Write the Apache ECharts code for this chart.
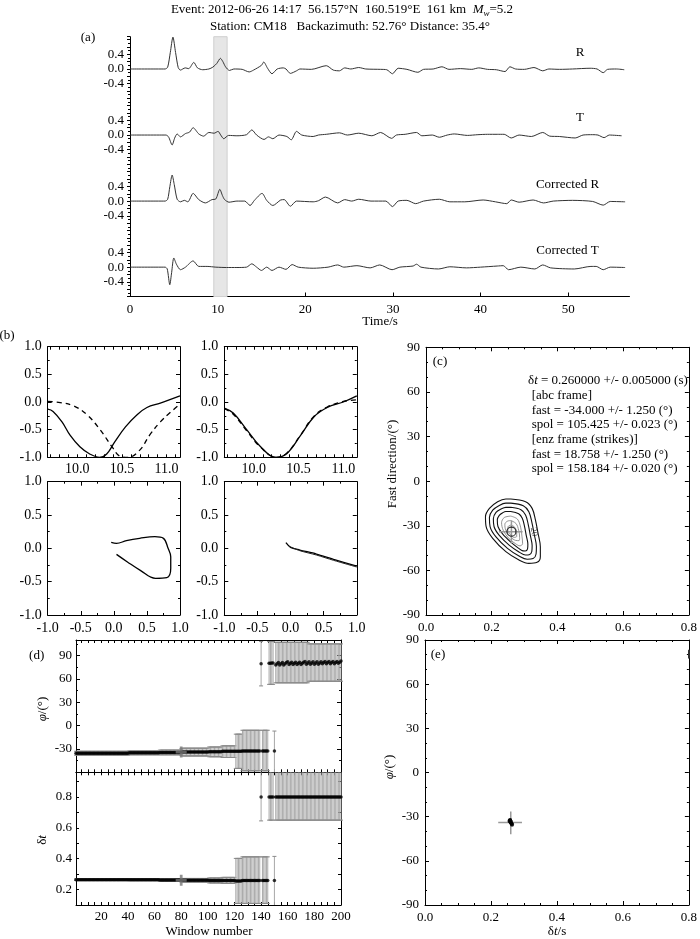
<!DOCTYPE html>
<html><head><meta charset="utf-8">
<script src="https://cdn.jsdelivr.net/npm/echarts@6/dist/echarts.min.js"></script>
<style>html,body{margin:0;padding:0;background:#fff}#c{width:700px;height:939px}</style>
</head><body><div id="c"></div>
<script>
const FONT = '"Liberation Serif", "Times New Roman", serif';

// ---------- Panel (a): waveforms [time s, amplitude] ----------
const traceR = [[0,0],[4.0,0],[4.3,0.05],[4.6,0.45],[4.9,0.87],[5.2,0.45],[5.5,0.04],[5.75,-0.03],[6.3,0.03],[6.7,0.01],[7.28,0.18],[7.7,0.03],[8.3,-0.02],[9.0,0.0],[9.45,0.05],[9.9,0.15],[10.32,0.29],[10.6,0.2],[10.9,0.06],[11.35,-0.04],[11.85,0.0],[12.8,-0.01],[13.6,-0.08],[14.1,-0.03],[15.0,0.1],[15.26,0.19],[15.7,0.02],[16.2,-0.13],[16.8,0],[17.5,0.03],[17.8,0.0],[18.3,-0.12],[19.0,-0.05],[19.4,0],[20.7,-0.01],[22.4,0.09],[23.2,-0.03],[23.9,-0.05],[24.5,0.03],[25.2,0.0],[26.1,0.04],[26.9,0.0],[28.6,-0.01],[29.3,-0.02],[29.95,-0.13],[30.6,0.02],[31.6,-0.01],[32.85,-0.09],[33.5,-0.01],[34.6,0.0],[35.6,0.06],[36.4,-0.01],[37.7,0.01],[39.0,-0.01],[39.8,0.03],[40.8,-0.01],[41.8,-0.02],[42.8,-0.07],[43.35,0.06],[44.0,0.0],[45.0,-0.01],[46.1,0.04],[47.1,-0.05],[47.8,0.0],[49.0,-0.01],[50.5,0.0],[52.5,0.02],[53.3,0.0],[54.0,-0.1],[54.5,-0.01],[55.5,0.0],[56.4,-0.02]];
const traceT = [[0,0],[4.1,0],[4.4,-0.05],[4.81,-0.27],[5.1,-0.08],[5.38,0.03],[5.76,-0.05],[6.33,0.04],[6.8,0.08],[7.2,0.2],[7.85,0.03],[8.4,-0.03],[9.0,0.07],[9.6,0.05],[10.05,0.1],[10.35,0.0],[10.7,-0.1],[11.25,-0.01],[12.2,-0.02],[13.3,0.01],[13.9,0.14],[14.45,0.0],[15.3,-0.12],[15.8,-0.05],[16.3,-0.1],[17.0,0.0],[17.9,-0.04],[18.4,-0.13],[19.0,0.1],[19.6,0.0],[20.9,-0.04],[21.5,0.0],[22.4,0.02],[23.9,0.06],[24.8,0.0],[26.1,0.05],[27.6,-0.02],[28.6,0.07],[29.85,-0.09],[30.4,0.0],[31.4,0.02],[32.7,0.07],[33.3,-0.02],[34.5,0.0],[35.3,-0.06],[36.2,0.0],[37.0,0.03],[38.5,-0.01],[39.7,0.01],[40.8,0.02],[41.9,0.02],[42.7,0.02],[43.5,-0.08],[44.4,0.0],[45.8,-0.04],[47.1,0.07],[47.9,-0.03],[49.0,-0.04],[50.8,-0.08],[51.7,0.0],[52.8,0.01],[53.4,0.0],[54.1,-0.07],[54.7,0.0],[56.1,-0.02]];
const traceCR = [[0,0],[4.0,0],[4.3,0.05],[4.55,0.4],[4.81,0.71],[5.05,0.45],[5.38,0.05],[5.76,-0.02],[6.2,0.02],[6.6,-0.02],[7.2,0.21],[7.85,0.04],[8.6,-0.05],[9.35,0.04],[9.8,0.06],[10.25,0.32],[10.55,0.15],[10.8,0.04],[11.3,-0.03],[12.2,0.0],[13.1,0.0],[13.7,-0.12],[14.2,0.02],[15.07,0.21],[15.6,0.02],[16.3,-0.12],[17.2,0.03],[17.6,0.04],[18.3,-0.14],[19.0,0],[20.9,-0.02],[21.5,0.01],[22.3,0.11],[23.7,-0.05],[24.5,0.04],[25.3,0.0],[26.1,0.05],[27.5,0.0],[29.2,0.0],[29.95,-0.15],[30.6,0.0],[31.6,0.02],[32.6,-0.07],[33.5,0.0],[35.3,0.05],[36.5,-0.02],[38.2,-0.02],[40.3,0.03],[41.7,-0.02],[43.0,-0.07],[43.5,0.03],[44.4,-0.03],[46.0,0.03],[47.2,-0.05],[48.3,0.0],[50.5,0.02],[52.8,-0.01],[54.0,-0.11],[54.8,-0.01],[56.5,-0.02]];
const traceCT = [[0,0],[4.0,0],[4.25,-0.05],[4.54,-0.48],[4.75,-0.15],[5.0,0.25],[5.3,0.08],[5.76,-0.07],[6.33,0.0],[7.2,0.17],[7.85,0.02],[8.8,0.02],[9.8,0.0],[11.0,-0.01],[12.2,-0.01],[13.3,0.0],[13.9,0.09],[14.45,0.0],[15.0,-0.09],[15.6,0.0],[16.2,-0.09],[17.0,0.0],[17.8,-0.06],[18.5,0.07],[19.2,0.0],[20.9,-0.03],[22.6,0.0],[23.7,0.06],[24.4,0.0],[25.9,0.04],[27.4,-0.02],[28.5,0.06],[29.9,-0.07],[30.8,0.0],[32.3,0.03],[32.7,0.08],[33.2,0.0],[35.2,-0.05],[36.5,0.01],[38.4,-0.02],[40.0,0.0],[41.9,0.03],[42.6,0.04],[43.2,-0.07],[44.6,0.0],[46.2,-0.05],[47.1,0.06],[48.0,-0.02],[50.7,-0.05],[52.6,0.02],[53.2,0.02],[54.0,-0.07],[54.8,0.0],[56.5,-0.01]];
const traceNames = ['R','T','Corrected R','Corrected T'];
const analysisWindow = [9.56, 11.08];
const aYLabels = ['0.4','0.0','-0.4'];

// ---------- Panel (b) ----------
const bFastOrig = [[9.67,-0.13],[9.73,-0.17],[9.83,-0.36],[9.92,-0.6],[10.03,-0.81],[10.14,-0.94],[10.25,-1.0],[10.33,-0.94],[10.42,-0.72],[10.54,-0.45],[10.67,-0.23],[10.78,-0.1],[10.93,-0.02],[11.15,0.11]];
const bSlowOrig = [[9.67,0.01],[9.81,-0.01],[9.96,-0.07],[10.11,-0.23],[10.26,-0.51],[10.39,-0.81],[10.48,-0.98],[10.57,-1.0],[10.70,-0.87],[10.81,-0.6],[10.93,-0.36],[11.04,-0.19],[11.15,-0.04]];
const bFastCorr = [[9.67,-0.11],[9.77,-0.2],[9.92,-0.5],[10.07,-0.8],[10.25,-1.0],[10.37,-0.93],[10.52,-0.61],[10.67,-0.27],[10.82,-0.1],[11.0,0.0],[11.15,0.11]];
const bSlowCorr = [[9.67,-0.12],[9.77,-0.22],[9.92,-0.52],[10.07,-0.81],[10.25,-1.0],[10.37,-0.92],[10.52,-0.6],[10.67,-0.26],[10.82,-0.09],[11.0,0.01],[11.08,0.03],[11.15,0.04]];
const bPMOrig = [[0.04,-0.09],[0.2,-0.2],[0.4,-0.33],[0.63,-0.45],[0.8,-0.44],[0.86,-0.3],[0.86,-0.125],[0.82,0.0],[0.75,0.15],[0.62,0.175],[0.39,0.15],[0.19,0.115],[0.04,0.075],[-0.04,0.09]];
const bPMCorr1 = [[-0.07,0.085],[0.0,0.015],[0.14,-0.025],[0.39,-0.085],[0.65,-0.165],[1.0,-0.265]];
const bPMCorr2 = [[-0.02,0.03],[0.14,-0.035],[0.39,-0.1],[0.65,-0.18],[1.0,-0.28]];
const bTimeLabels = [10.0, 10.5, 11.0];

// ---------- Panel (c): contours [dt, phi] ----------
const contour1 = [[0.258,-12],[0.303,-13.8],[0.323,-18.3],[0.333,-26.1],[0.341,-35.1],[0.348,-44.1],[0.348,-50.8],[0.338,-54.6],[0.313,-55.3],[0.283,-53],[0.243,-47.4],[0.203,-38.5],[0.183,-30.6],[0.181,-23.9],[0.193,-18.3],[0.218,-13.8],[0.243,-12.0],[0.258,-12]];
const contour2 = [[0.258,-14.8],[0.296,-16.5],[0.313,-20.5],[0.322,-27.5],[0.329,-35.5],[0.336,-44],[0.335,-49],[0.326,-52],[0.308,-52.5],[0.283,-50.3],[0.248,-45.2],[0.213,-37.5],[0.195,-30.5],[0.193,-24.5],[0.203,-19.5],[0.223,-16.3],[0.243,-14.8],[0.258,-14.8]];
const contour3 = [[0.258,-17.6],[0.289,-19.2],[0.303,-22.7],[0.311,-29],[0.317,-36],[0.323,-43.5],[0.322,-47.3],[0.314,-49.5],[0.303,-49.7],[0.283,-47.6],[0.253,-43],[0.223,-36.5],[0.207,-30.5],[0.205,-25.2],[0.213,-21],[0.228,-18.8],[0.243,-17.6],[0.258,-17.6]];
const contour4 = [[0.258,-20.4],[0.282,-21.9],[0.293,-25],[0.300,-30.5],[0.305,-36.5],[0.310,-42.5],[0.309,-45.5],[0.302,-47],[0.295,-46.9],[0.281,-45],[0.258,-41],[0.233,-35.5],[0.219,-30.5],[0.217,-26],[0.223,-23],[0.233,-21.3],[0.243,-20.4],[0.258,-20.4]];
const contourG1 = [[0.258,-23.5],[0.278,-25.5],[0.288,-31],[0.292,-37],[0.294,-42],[0.286,-43.5],[0.272,-42],[0.252,-38.5],[0.235,-33],[0.230,-28],[0.238,-24.5],[0.258,-23.5]];
const contourG2 = [[0.258,-26.5],[0.274,-28.5],[0.282,-33],[0.285,-38],[0.283,-40],[0.272,-39.8],[0.258,-37.5],[0.243,-33],[0.240,-29],[0.247,-27],[0.258,-26.5]];
const contourG3 = [[0.259,-29.5],[0.270,-31],[0.276,-34.5],[0.276,-37.2],[0.268,-37.8],[0.257,-35.8],[0.249,-33],[0.250,-30.5],[0.259,-29.5]];
const bestDt = 0.26, bestPhi = -34;
const bestDtRange = [0.222, 0.294], bestPhiRange = [-26.5, -42];
const cTextLines = ['[abc frame]','fast = -34.000 +/- 1.250 (°)','spol = 105.425 +/- 0.023 (°)','[enz frame (strikes)]','fast = 18.758 +/- 1.250 (°)','spol = 158.184 +/- 0.020 (°)'];

// ---------- Panel (d): window results ----------
const segWinA = [[1,40],[41,63],[64,79],[80,80],[81,100],[101,110],[111,120],[121,125],[126,139],[141,145],[150,150]];
const phiA    = [-35.5,-35,-34.5,-34,-34,-33.5,-33,-33,-32.5,-32.5,-32.5];
const phiErrA = [[-38,-33],[-37.5,-32.5],[-37.5,-31.5],[-38,-30],[-39,-29],[-40,-27.5],[-41,-26],[-55,-11],[-58,-6],[-58,-6],[-60,-7]];
const dtA     = [0.264,0.263,0.262,0.26,0.26,0.259,0.259,0.256,0.258,0.258,0.258];
const dtErrA  = [[0.259,0.269],[0.258,0.268],[0.255,0.269],[0.25,0.27],[0.248,0.272],[0.243,0.275],[0.24,0.279],[0.11,0.402],[0.11,0.412],[0.11,0.412],[0.10,0.415]];
const segWinB = [[140,140],[146,149],[151,175],[176,200]];
const phiErrB = [[51,108],[53,108],[55,107],[57,105]];
const dtB     = [0.8,0.8,0.8,0.8];
const dtErrB  = [[0.645,0.99],[0.65,0.99],[0.65,0.99],[0.65,0.99]];
const winB    = [140,146,147,148,149,151,152,153,154,155,156,157,158,159,160,161,162,163,164,165,166,167,168,169,170,171,172,173,174,175,176,177,178,179,180,181,182,183,184,185,186,187,188,189,190,191,192,193,194,195,196,197,198,199,200];
const phiB    = [79.5,80,80,80.5,80.5, 78,79.5,81, 78,79.5,81, 78,79.5,81,82, 78.5,80,81.5, 78.5,80,81.5, 78.5,80,81.5, 78.5,80,81.5,82.5, 79,80.5,82, 79,80.5,82, 79,80.5,82, 79,80.5,82, 79.5,81,82.5, 79.5,81,82.5, 79.5,81,82.5, 79.5,81,82.5, 80,81.5,83];
const selectedWin = 80;
const dWinLabels = [20,40,60,80,100,120,140,160,180,200];

// ---------- build ----------
function isObj(o){return o && typeof o==='object' && !Array.isArray(o);}
function merge(a,b){const r=Object.assign({},a);for(const k in b){r[k]=(isObj(a[k])&&isObj(b[k]))?merge(a[k],b[k]):b[k];}return r;}
const grids=[], xAxes=[], yAxes=[], series=[];
function baseAxis(){return {type:'value',axisLine:{show:true,onZero:false,lineStyle:{color:'#000',width:1}},axisTick:{show:true,inside:true,length:4,lineStyle:{color:'#000'}},minorTick:{show:false,length:2,lineStyle:{color:'#000'}},axisLabel:{color:'#000',fontFamily:FONT,fontSize:13,margin:6},splitLine:{show:false},minorSplitLine:{show:false}};}
function mirrorOf(o){
  const m={min:o.min,max:o.max};
  if(o.interval!==undefined)m.interval=o.interval;
  m.axisLabel={show:false};
  m.axisTick=merge(o.axisTick||{},{inside:true});
  if(o.axisTick&&o.axisTick.customValues)m.axisTick.customValues=o.axisTick.customValues;
  if(o.minorTick)m.minorTick=o.minorTick;
  return m;
}
function addGrid(box,xo,yo,mirror){
  const gi=grids.length;
  grids.push({left:box[0],top:box[1],width:box[2],height:box[3]});
  const xi=xAxes.length; xAxes.push(merge(merge(baseAxis(),{gridIndex:gi,position:'bottom'}),xo));
  const yi=yAxes.length; yAxes.push(merge(merge(baseAxis(),{gridIndex:gi,position:'left'}),yo));
  if(mirror){
    xAxes.push(merge(merge(baseAxis(),{gridIndex:gi,position:'top'}),mirrorOf(xo)));
    yAxes.push(merge(merge(baseAxis(),{gridIndex:gi,position:'right'}),mirrorOf(yo)));
  }
  return {xi,yi};
}
function line(ax,data,style,extra){return Object.assign({type:'line',xAxisIndex:ax.xi,yAxisIndex:ax.yi,data,showSymbol:false,symbol:'none',lineStyle:style,animation:false,silent:true},extra||{});}

// Panel a
const offs=[0,-1.8,-3.6,-5.4];
const A=addGrid([130,36.7,499.5,259.8],
  {min:0,max:57,axisTick:{inside:true,length:4,customValues:[0,10,20,30,40,50]},axisLabel:{customValues:[0,10,20,30,40,50],margin:7}},
  {min:-6.2,max:0.88,interval:0.2,axisTick:{inside:false,length:3},minorTick:{show:true,splitNumber:2,length:2},
   axisLabel:{margin:6,formatter:function(v){for(let k=0;k<4;k++){const d=v-offs[k];if(Math.abs(d-0.4)<1e-6)return aYLabels[0];if(Math.abs(d)<1e-6)return aYLabels[1];if(Math.abs(d+0.4)<1e-6)return aYLabels[2];}return '';}}},false);
[traceR,traceT,traceCR,traceCT].forEach((tr,k)=>{
  series.push(line(A,tr.map(p=>[p[0],p[1]+offs[k]]),{color:'#333',width:1},{smooth:0.25,z:3,
    markArea:k===0?{silent:true,itemStyle:{color:'#e6e6e6',borderColor:'#cfcfcf',borderWidth:1},data:[[{xAxis:analysisWindow[0]},{xAxis:analysisWindow[1]}]]}:undefined}));
});

// Panel b
const tick01=[9.7,9.8,9.9,10.0,10.1,10.2,10.3,10.4,10.5,10.6,10.7,10.8,10.9,11.0,11.1];
const bx={min:9.67,max:11.15,axisTick:{customValues:tick01,length:3},axisLabel:{customValues:bTimeLabels,fontSize:14,margin:5,formatter:v=>v.toFixed(1)}};
const by={min:-1,max:1,interval:0.5,axisTick:{length:4},minorTick:{show:true,splitNumber:2,length:2},axisLabel:{fontSize:14,formatter:v=>v.toFixed(1)}};
const bpx={min:-1,max:1,interval:0.5,axisTick:{length:4},minorTick:{show:true,splitNumber:2,length:2},axisLabel:{fontSize:14,formatter:v=>v.toFixed(1)}};
const B1=addGrid([47.7,346.7,132.3,110.6],bx,by,true);
const B2=addGrid([224.3,346.7,132.5,110.6],bx,by,true);
const B3=addGrid([47.7,481.7,132.3,133.3],bpx,by,true);
const B4=addGrid([224.3,481.7,132.5,133.3],bpx,by,true);
series.push(line(B1,bFastOrig,{color:'#000',width:1.3},{smooth:0.4}));
series.push(line(B1,bSlowOrig,{color:'#000',width:1.3,type:[5,4]},{smooth:0.4}));
series.push(line(B2,bFastCorr,{color:'#000',width:1.3},{smooth:0.4}));
series.push(line(B2,bSlowCorr,{color:'#000',width:1.3,type:[5,4]},{smooth:0.4}));
series.push(line(B3,bPMOrig,{color:'#000',width:1.3},{smooth:0.4}));
series.push(line(B4,bPMCorr1,{color:'#000',width:1.3},{smooth:0.3}));
series.push(line(B4,bPMCorr2,{color:'#222',width:1},{smooth:0.3}));

// Panel c
const cx={min:0,max:0.8,interval:0.2,minorTick:{show:true,splitNumber:4,length:2},axisLabel:{formatter:v=>v.toFixed(1)}};
const cy={min:-90,max:90,interval:30,minorTick:{show:true,splitNumber:3,length:2}};
const C=addGrid([426,347.3,265.7,267.7],cx,cy,true);
[contour1,contour2,contour3,contour4].forEach(c=>series.push(line(C,c,{color:'#111',width:1.1},{smooth:0.35})));
[contourG1,contourG2,contourG3].forEach(c=>series.push(line(C,c,{color:'#777',width:0.8},{smooth:0.35})));
function cross(ax){
  series.push(line(ax,[[bestDtRange[0],bestPhi],[bestDtRange[1],bestPhi]],{color:'#999',width:1.5}));
  series.push(line(ax,[[bestDt,bestPhiRange[0]],[bestDt,bestPhiRange[1]]],{color:'#999',width:1.5}));
}
cross(C);
series.push({type:'scatter',xAxisIndex:C.xi,yAxisIndex:C.yi,data:[[bestDt,bestPhi]],symbol:'circle',symbolSize:9,itemStyle:{color:'rgba(0,0,0,0)',borderColor:'#000',borderWidth:1.2},animation:false,silent:true,z:5});
series.push({type:'scatter',xAxisIndex:C.xi,yAxisIndex:C.yi,data:[[0.328,-34]],symbolSize:0,animation:false,silent:true,
  label:{show:true,formatter:'20',rotate:-80,fontSize:9,fontFamily:FONT,color:'#222',backgroundColor:'#fff',padding:0}});

// Panel d
const dWinTicks=[];for(let w=5;w<=200;w+=5)dWinTicks.push(w);
const dxTop={min:1,max:200,axisTick:{customValues:dWinTicks,length:3},axisLabel:{show:false}};
const dxBot={min:1,max:200,axisTick:{customValues:dWinTicks,length:3},axisLabel:{customValues:dWinLabels,margin:5}};
const dyTop={min:-60,max:110,interval:30,axisTick:{length:4},minorTick:{show:true,splitNumber:2,length:2},axisLabel:{margin:4,formatter:v=>(v>=-30&&v<=90&&v%30===0)?String(v):''}};
const dyBot={min:0.1,max:0.96,axisTick:{customValues:[0.2,0.3,0.4,0.5,0.6,0.7,0.8,0.9],length:3},axisLabel:{margin:4,customValues:[0.2,0.4,0.6,0.8],formatter:v=>v.toFixed(1)}};
const D1=addGrid([76,640,265,132.3],dxTop,dyTop,true);
const D2=addGrid([76,772.3,265,132.7],dxBot,dyBot,true);
function expand(segs,vals){const out=[];segs.forEach((s,i)=>{for(let w=s[0];w<=s[1];w++){const v=vals[i];out.push([w].concat(Array.isArray(v)?v:[v]));}});return out;}
function errRender(params,api){
  const x=api.value(0),lo=api.value(1),hi=api.value(2);
  const p1=api.coord([x,lo]),p2=api.coord([x,hi]);
  const cs=params.coordSys;
  const top=cs.y,bot=cs.y+cs.height;
  const y1=Math.max(top,Math.min(bot,p1[1])),y2=Math.max(top,Math.min(bot,p2[1]));
  const ch=[{type:'line',shape:{x1:p1[0],y1:y1,x2:p1[0],y2:y2},style:{stroke:'#a8a8a8',lineWidth:1}}];
  if(p1[1]<bot-0.5)ch.push({type:'line',shape:{x1:p1[0]-2,y1:y1,x2:p1[0]+2,y2:y1},style:{stroke:'#8a8a8a',lineWidth:1}});
  if(p2[1]>top+0.5)ch.push({type:'line',shape:{x1:p1[0]-2,y1:y2,x2:p1[0]+2,y2:y2},style:{stroke:'#8a8a8a',lineWidth:1}});
  return {type:'group',children:ch};
}
function errSeries(ax,data){return {type:'custom',xAxisIndex:ax.xi,yAxisIndex:ax.yi,data,renderItem:errRender,encode:{x:0,y:[1,2]},animation:false,silent:true,z:2};}
function dots(ax,data,size,color){return {type:'scatter',xAxisIndex:ax.xi,yAxisIndex:ax.yi,data,symbolSize:size||3.5,itemStyle:{color:color||'#000'},animation:false,silent:true,z:4};}
series.push(errSeries(D1,expand(segWinA,phiErrA)));
series.push(errSeries(D1,expand(segWinB,phiErrB)));
series.push(dots(D1,expand(segWinA,phiA)));
series.push(dots(D1,winB.map((w,i)=>[w,phiB[i]])));
series.push(errSeries(D2,expand(segWinA,dtErrA)));
series.push(errSeries(D2,expand(segWinB,dtErrB)));
series.push(dots(D2,expand(segWinA,dtA)));
series.push(dots(D2,winB.map(w=>[w,dtB[0]])));
const plusPath='path://M3,0H5V3H8V5H5V8H3V5H0V3H3Z';
series.push({type:'scatter',xAxisIndex:D1.xi,yAxisIndex:D1.yi,data:[[selectedWin,bestPhi]],symbol:plusPath,symbolSize:11,itemStyle:{color:'#777'},animation:false,silent:true,z:5});
series.push({type:'scatter',xAxisIndex:D2.xi,yAxisIndex:D2.yi,data:[[selectedWin,bestDt]],symbol:plusPath,symbolSize:11,itemStyle:{color:'#777'},animation:false,silent:true,z:5});

// Panel e
const E=addGrid([425,640,265.7,265],cx,cy,true);
cross(E);
series.push(dots(E,segWinA.map((s,i)=>[dtA[i],phiA[i]]),4));
series.push(dots(E,phiB.map(p=>[dtB[0],p]),1.5,'#333'));

// ---------- texts ----------
const rich={i:{fontStyle:'italic',fontFamily:FONT,fontSize:13},n:{fontFamily:FONT,fontSize:13},s:{fontStyle:'italic',fontFamily:FONT,fontSize:9,verticalAlign:'bottom',lineHeight:17}};
function txt(x,y,text,o){o=o||{};return {type:'text',x,y,rotation:o.rot||0,silent:true,z:100,style:{text,fontFamily:FONT,fontSize:o.size||13,fill:'#000',align:o.align||'center',verticalAlign:'middle',rich:rich}};}
const g=[
  txt(342,10,'Event: 2012-06-26 14:17  56.157°N  160.519°E  161 km  {i|M}{s|w}=5.2'),
  txt(350,27,'Station: CM18   Backazimuth: 52.76° Distance: 35.4°'),
  txt(88,38,'(a)'),
  txt(380,322,'Time/s'),
  txt(7,336,'(b)'),
  txt(440,362,'(c)'),
  txt(36.7,655.7,'(d)'),
  txt(438,655,'(e)'),
  txt(393,464,'Fast direction/(°)',{rot:Math.PI/2}),
  txt(42.7,709,'{i|φ}/(°)',{rot:Math.PI/2}),
  txt(42.7,840,'δ{i|t}',{rot:Math.PI/2}),
  txt(209,931.5,'Window number'),
  txt(390,767,'{i|φ}/(°)',{rot:Math.PI/2}),
  txt(557,931.5,'δ{i|t}/s'),
  txt(528,381,'δ{i|t} = 0.260000 +/- 0.005000 (s)',{align:'left'})
];
const labelPos=[[580,52.7],[580,118],[567.5,185],[567.5,251]];
traceNames.forEach((n,i)=>g.push(txt(labelPos[i][0],labelPos[i][1],n)));
cTextLines.forEach((t,i)=>g.push(txt(531.7,395.7+i*14.65,t,{align:'left'})));

const chart=echarts.init(document.getElementById('c'),null,{renderer:'canvas'});
chart.setOption({animation:false,backgroundColor:'#fff',grid:grids,xAxis:xAxes,yAxis:yAxes,series,graphic:g});
</script></body></html>
